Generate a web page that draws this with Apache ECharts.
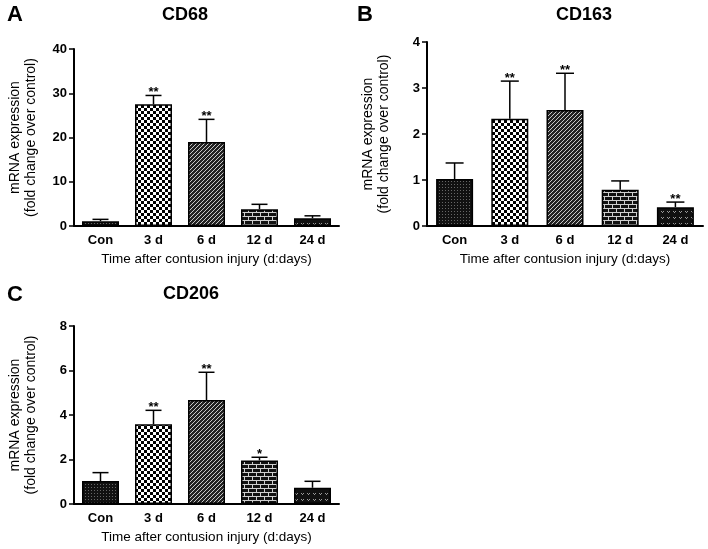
<!DOCTYPE html>
<html><head><meta charset="utf-8">
<script src="https://cdn.jsdelivr.net/npm/echarts@6/dist/echarts.min.js"></script>
<style>html,body{margin:0;padding:0;background:#fff}#c{width:708px;height:549px}</style>
</head><body><div id="c"></div>
<script>
const categories = ['Con', '3 d', '6 d', '12 d', '24 d'];
const cd68Values = [1.1, 27.5, 19.0, 3.8, 1.75];
const cd68Errors = [0.4, 2.0, 5.1, 1.1, 0.55];
const cd68Stars = ['', '**', '**', '', ''];
const cd163Values = [1.02, 2.33, 2.52, 0.79, 0.41];
const cd163Errors = [0.35, 0.82, 0.80, 0.19, 0.11];
const cd163Stars = ['', '**', '**', '', '**'];
const cd206Values = [1.03, 3.58, 4.67, 1.96, 0.73];
const cd206Errors = [0.38, 0.63, 1.25, 0.14, 0.29];
const cd206Stars = ['', '**', '**', '*', ''];
const cd68Axis = {max: 40, interval: 10};
const cd163Axis = {max: 4, interval: 1};
const cd206Axis = {max: 8, interval: 2};
const yName = 'mRNA expression\n(fold change over control)';
const xName = 'Time after contusion injury (d:days)';

const FONT = 'Liberation Sans, Arial, sans-serif';

function tile(w, h, draw) {
  const c = document.createElement('canvas');
  c.width = w; c.height = h;
  const g = c.getContext('2d');
  draw(g);
  return {image: c, repeat: 'repeat'};
}
const patterns = [
  tile(3, 3, g => { g.fillStyle = '#111'; g.fillRect(0, 0, 3, 3); g.fillStyle = '#666'; g.fillRect(1, 1, 1, 1); }),
  tile(6, 6, g => { g.fillStyle = '#fff'; g.fillRect(0, 0, 6, 6); g.fillStyle = '#000'; g.fillRect(0, 0, 3, 3); g.fillRect(3, 3, 3, 3); }),
  tile(4, 4, g => {
    g.fillStyle = '#c8c8c8'; g.fillRect(0, 0, 4, 4); g.fillStyle = '#222';
    for (let x = 0; x < 4; x++) for (let y = 0; y < 4; y++) { const k = (x + y) % 4; if (k !== 3) g.fillRect(x, y, 1, 1); }
  }),
  tile(8, 8, g => {
    g.fillStyle = '#111'; g.fillRect(0, 0, 8, 8); g.fillStyle = '#cfcfcf';
    g.fillRect(0, 0, 8, 1); g.fillRect(0, 4, 8, 1); g.fillRect(0, 1, 1, 3); g.fillRect(4, 5, 1, 3);
  }),
  tile(6, 6, g => {
    g.fillStyle = '#111'; g.fillRect(0, 0, 6, 6); g.fillStyle = '#999';
    g.fillRect(1, 1, 1, 1); g.fillRect(3, 1, 1, 1); g.fillRect(2, 2, 1, 1);
  })
];

const grids = [
  {left: 74, top: 49, width: 265, height: 177},
  {left: 427, top: 42, width: 276, height: 184},
  {left: 74, top: 326, width: 265, height: 178}
];

function xAxisFor(i) {
  return {
    type: 'category', gridIndex: i, data: categories,
    axisLine: {lineStyle: {color: '#000', width: 2}},
    axisTick: {alignWithLabel: true, length: 5, lineStyle: {color: '#000', width: 1.5}},
    axisLabel: {color: '#000', fontWeight: 'bold', fontSize: 13, margin: 8, fontFamily: FONT},
    name: xName, nameLocation: 'middle', nameGap: 26,
    nameTextStyle: {color: '#000', fontSize: 13.5, fontFamily: FONT}
  };
}
function yAxisFor(i, ax) {
  return {
    type: 'value', gridIndex: i, min: 0, max: ax.max, interval: ax.interval,
    axisLine: {show: true, lineStyle: {color: '#000', width: 2}},
    axisTick: {show: true, length: 5, lineStyle: {color: '#000', width: 1.5}},
    splitLine: {show: false},
    axisLabel: {color: '#000', fontWeight: 'bold', fontSize: 13, margin: 7, fontFamily: FONT},
    name: yName, nameLocation: 'middle', nameRotate: 90, nameGap: 35,
    nameTextStyle: {color: '#000', fontSize: 14, lineHeight: 16, fontFamily: FONT}
  };
}
function barSeries(i, values) {
  return {
    type: 'bar', xAxisIndex: i, yAxisIndex: i, barWidth: 37, z: 3,
    data: values.map((v, k) => ({value: v, itemStyle: {color: patterns[k], borderColor: '#000', borderWidth: 1.5}})),
    animation: false
  };
}
function errSeries(i, values, errors, stars, capW) {
  return {
    type: 'custom', xAxisIndex: i, yAxisIndex: i, z: 2, animation: false,
    data: values.map((v, k) => [k, v, v + errors[k]]),
    renderItem: function (params, api) {
      const x = api.value(0);
      const p0 = api.coord([x, api.value(1)]);
      const p1 = api.coord([x, api.value(2)]);
      const hw = capW / 2;
      const children = [
        {type: 'line', shape: {x1: p0[0], y1: p0[1], x2: p1[0], y2: p1[1]}, style: {stroke: '#000', lineWidth: 1.5}},
        {type: 'line', shape: {x1: p1[0] - hw, y1: p1[1], x2: p1[0] + hw, y2: p1[1]}, style: {stroke: '#000', lineWidth: 1.5}}
      ];
      const s = stars[params.dataIndex];
      if (s) children.push({type: 'text', x: p1[0], y: p1[1] - 3,
        style: {text: s, fill: '#000', font: 'bold 13px ' + FONT, align: 'center', verticalAlign: 'middle'}});
      return {type: 'group', children: children};
    }
  };
}

const titleStyle = {color: '#000', fontWeight: 'bold', fontSize: 18, fontFamily: FONT};
const letterStyle = {color: '#000', fontWeight: 'bold', fontSize: 22, fontFamily: FONT};
const option = {
  backgroundColor: '#fff',
  animation: false,
  title: [
    {text: 'CD68', left: 185, top: 6, padding: 0, textAlign: 'center', textStyle: titleStyle},
    {text: 'CD163', left: 584, top: 6, padding: 0, textAlign: 'center', textStyle: titleStyle},
    {text: 'CD206', left: 191, top: 285, padding: 0, textAlign: 'center', textStyle: titleStyle},
    {text: 'A', left: 15, top: 4, padding: 0, textAlign: 'center', textStyle: letterStyle},
    {text: 'B', left: 365, top: 4, padding: 0, textAlign: 'center', textStyle: letterStyle},
    {text: 'C', left: 15, top: 284, padding: 0, textAlign: 'center', textStyle: letterStyle}
  ],
  grid: grids,
  xAxis: [xAxisFor(0), xAxisFor(1), xAxisFor(2)],
  yAxis: [yAxisFor(0, cd68Axis), yAxisFor(1, cd163Axis), yAxisFor(2, cd206Axis)],
  series: [
    barSeries(0, cd68Values), errSeries(0, cd68Values, cd68Errors, cd68Stars, 16),
    barSeries(1, cd163Values), errSeries(1, cd163Values, cd163Errors, cd163Stars, 18),
    barSeries(2, cd206Values), errSeries(2, cd206Values, cd206Errors, cd206Stars, 16)
  ]
};
const chart = echarts.init(document.getElementById('c'), null, {renderer: 'canvas'});
chart.setOption(option);
</script>
</body></html>
